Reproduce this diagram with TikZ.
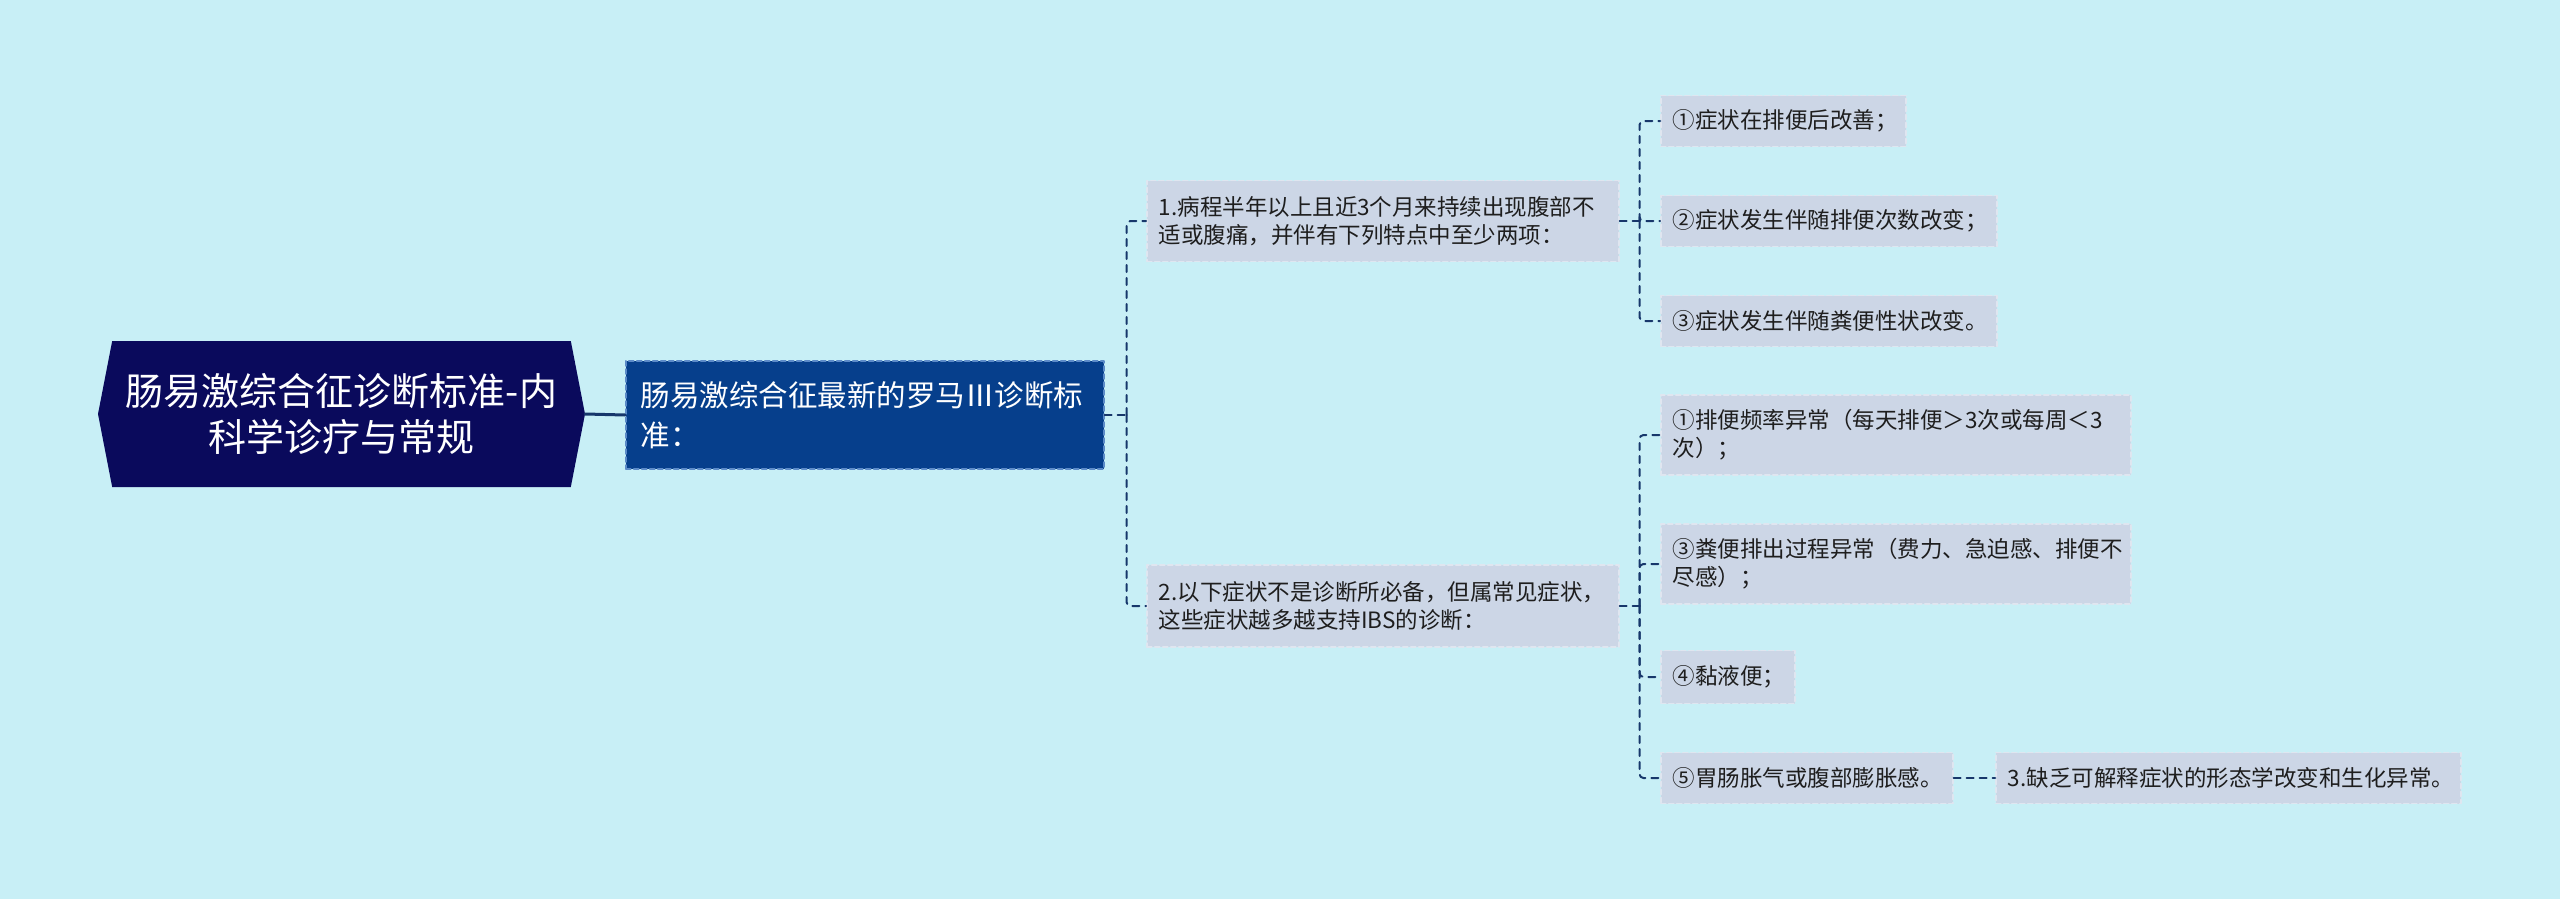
\documentclass[tikz,border=0pt]{standalone}
\usepackage{fontspec}
\newfontfamily\cjk{Noto Sans CJK SC}
\usepackage{tikz}
\usetikzlibrary{shapes.symbols, positioning, calc, backgrounds}

\definecolor{bgcol}{HTML}{C8EFF6}
\definecolor{rootcol}{HTML}{0A0A5C}
\definecolor{maincol}{HTML}{063F8C}
\definecolor{mainedge}{HTML}{5C8BC8}
\definecolor{subcol}{HTML}{CCD6E6}
\definecolor{subedge}{HTML}{DFE6F0}
\definecolor{textcol}{HTML}{1E1E1E}
\definecolor{linkcol}{HTML}{17376B}

\begin{document}
\begin{tikzpicture}[
  x=1pt, y=1pt,
  line join=round,
  line cap=round,
  link/.style={draw=linkcol, line width=2pt, dash pattern=on 7pt off 6pt,
               rounded corners=4pt},
  mainlink/.style={draw=linkcol, line width=3pt},
  topic/.style={
    signal, signal to=east and west, signal pointer angle=158,
    fill=rootcol, text=white, align=center, inner sep=0pt,
    font=\cjk\fontsize{38}{46}\selectfont,
    minimum width=487, minimum height=146
  },
  main/.style={
    fill=maincol, draw=mainedge, line width=1.5pt, dash pattern=on 5pt off 3pt,
    text=white, align=left, anchor=west, inner xsep=15pt,
    font=\cjk\fontsize{29.5}{40}\selectfont, minimum height=108
  },
  sub/.style={
    fill=subcol, draw=subedge, line width=1.5pt, dash pattern=on 5pt off 3pt,
    text=textcol, align=left, anchor=west, inner xsep=12pt, inner ysep=4pt,
    font=\cjk\fontsize{22.5}{28}\selectfont, minimum height=51
  }
]
\fill[bgcol] (0,0) rectangle (2560,-899);
\useasboundingbox (0,0) rectangle (2560,-899);
\def\xA{1146}
\def\xB{1660}
%% root and main topic
\node[topic] (root) at (341.5,-414)
  {肠易激综合征诊断标准-内\\科学诊疗与常规};
\node[main, text width=448pt] (rome) at (625,-415)
  {肠易激综合征最新的罗马Ⅲ诊断标\\准：};
%% second level
\node[sub, text width=448pt, minimum height=81] (c1) at (\xA,-221)
  {1.病程半年以上且近3个月来持续出现腹部不\\适或腹痛，并伴有下列特点中至少两项：};
\node[sub, text width=448pt, minimum height=82] (c2) at (\xA,-606)
  {2.以下症状不是诊断所必备，但属常见症状，\\这些症状越多越支持IBS的诊断：};
%% features of item 1
\node[sub, text width=221pt] (f1) at (\xB,-121) {①症状在排便后改善；};
\node[sub, text width=312pt] (f2) at (\xB,-221) {②症状发生伴随排便次数改变；};
\node[sub, text width=312pt] (f3) at (\xB,-321) {③症状发生伴随粪便性状改变。};
%% symptoms of item 2
\node[sub, text width=446pt, minimum height=80] (s1) at (\xB,-435)
  {①排便频率异常（每天排便＞3次或每周＜3\\次）；};
\node[sub, text width=446pt, minimum height=80] (s3) at (\xB,-564)
  {③粪便排出过程异常（费力、急迫感、排便不\\尽感）；};
\node[sub, text width=110pt, minimum height=53] (s4) at (\xB,-677) {④黏液便；};
\node[sub, text width=268pt] (s5) at (\xB,-778) {⑤胃肠胀气或腹部膨胀感。};
\node[sub, text width=441pt] (c3) at (1995,-778)
  {3.缺乏可解释症状的形态学改变和生化异常。};
%% connectors
\draw[mainlink] (root.east) -- (rome.west);
\coordinate (bus0) at ($(rome.east)+(22,0)$);
\draw[link] (rome.east) -- (bus0);
\draw[link] (bus0) |- (c1.west);
\draw[link] (bus0) |- (c2.west);
\coordinate (bus1) at ($(c1.east)+(20,0)$);
\draw[link] (c1.east) -- (bus1);
\draw[link] (bus1) |- (f1.west);
\draw[link] (bus1) |- (f2.west);
\draw[link] (bus1) |- (f3.west);
\coordinate (bus2) at ($(c2.east)+(20,0)$);
\draw[link] (c2.east) -- (bus2);
\draw[link] (bus2) |- (s1.west);
\draw[link] (bus2) |- (s3.west);
\draw[link] (bus2) |- (s4.west);
\draw[link] (bus2) |- (s5.west);
\draw[link] (s5.east) -- (c3.west);
\end{tikzpicture}
\end{document}
